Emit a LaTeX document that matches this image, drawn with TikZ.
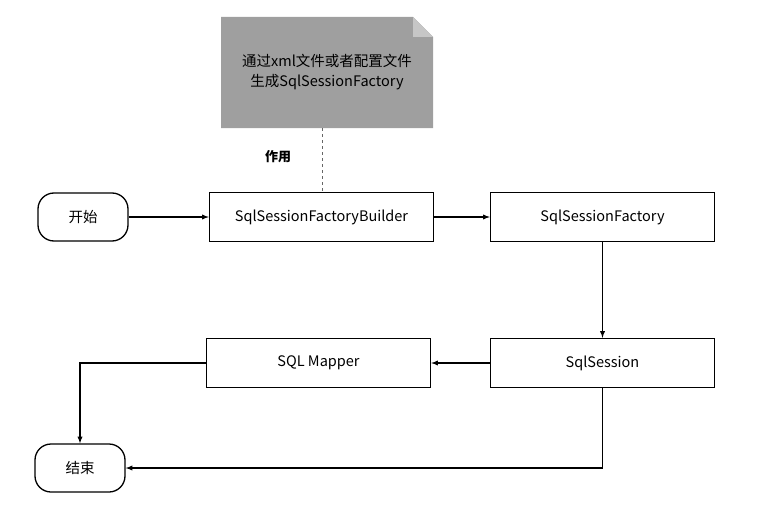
\documentclass[tikz,border=0pt]{standalone}
\usepackage{fontspec}
\setmainfont{Noto Sans CJK SC}
\usetikzlibrary{positioning}
\usetikzlibrary{shapes,arrows}
\tikzstyle{block} = [rectangle, draw, line width=1.3pt, fill=white,
                text centered, minimum width=224pt, minimum height=49pt, font=\fontsize{14.5}{16}\selectfont]
\tikzstyle{term} = [rectangle, draw, line width=1.3pt, rounded corners=16pt,
                minimum width=90pt, minimum height=48pt, font=\fontsize{14.5}{16}\selectfont]
\tikzstyle{line} = [draw, line width=1.3pt, -latex]

\begin{document}
\begin{tikzpicture}[x=1pt,y=-1pt]
                \useasboundingbox (0,0) rectangle (767,508);
                % note with folded corner
                \fill[gray!75] (221,17) -- (413,17) -- (433,37) -- (433,128) -- (221,128) -- cycle;
                \fill[gray!45] (413,17) -- (413,37) -- (433,37) -- cycle;
                \node[align=center, font=\fontsize{14.5}{20}\selectfont](note) at (327,72){通过xml文件或者配置文件\\生成SqlSessionFactory};
                \coordinate (notebot) at (322,128);
                \node[term](start) at (83,217){开始};
                \node[block](builder) at (321.5,217){SqlSessionFactoryBuilder};
                \node[block](factory) at (602.5,217){SqlSessionFactory};
                \node[block](session) at (602.5,363){SqlSession};
                \node[block](mapper) at (318.5,363){SQL Mapper};
                \node[term](end) at (80,468){结束};
                \node[font=\bfseries\fontsize{13}{15}\selectfont] at (278,157){作用};
                \draw[dashed, line width=0.9pt, gray!80!black](notebot) -- (builder.north -| notebot);
                \path[line](start) -- (builder);
                \path[line](builder) -- (factory);
                \path[line](factory) -- (session);
                \path[line](session) -- (mapper);
                \path[line](mapper.west) -| (end.north);
                \path[line](session.south) |- (end.east);
            \end{tikzpicture}
\end{document}
